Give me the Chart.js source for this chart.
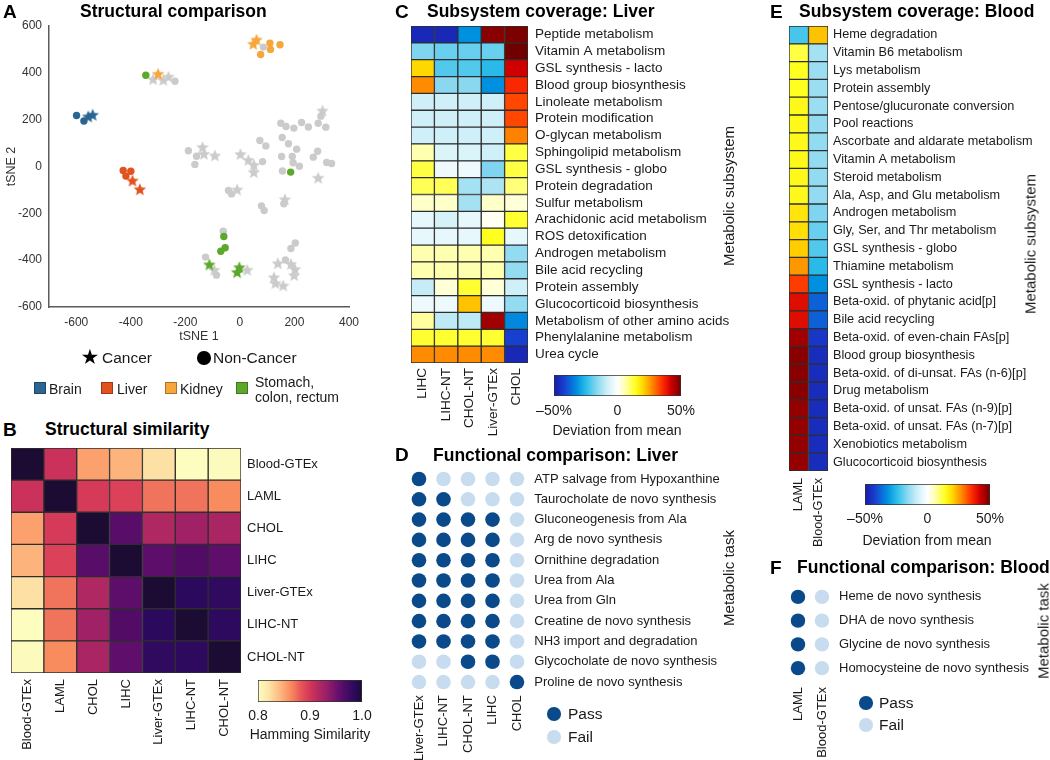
<!DOCTYPE html>
<html>
<head>
<meta charset="utf-8">
<title>Structural and functional comparison</title>
<script src="https://cdn.jsdelivr.net/npm/chart.js@4.4.1/dist/chart.umd.min.js"></script>
<style>
html,body{margin:0;padding:0;background:#ffffff;}
body{position:relative;width:1050px;height:760px;overflow:hidden;font-family:"Liberation Sans",Arial,Helvetica,sans-serif;color:#1a1a1a;}
.t{position:absolute;white-space:nowrap;line-height:1;}
canvas{position:absolute;}
.dot{position:absolute;border-radius:50%;}
.sq{position:absolute;width:12px;height:12px;box-sizing:border-box;border:1px solid rgba(0,0,0,0.3);}
</style>
</head>
<body>
<script>
// ================= DATA =================
// Panel A: tSNE coordinates
const brainCancer = [[-556,214],[-540,221]];
const brainNonCancer = [[-599,218],[-572,194]];
const liverCancer = [[-394,-60],[-367,-97]];
const liverNonCancer = [[-428,-17],[-400,-20],[-418,-41]];
const kidneyCancer = [[61,542],[49,524],[-300,396]];
const kidneyNonCancer = [[110,527],[112,500],[147,520],[76,478]];
const giCancer = [[-112,-418],[-2,-430],[-10,-451]];
const giNonCancer = [[-345,390],[186,-24],[-59,-299],[-54,-347],[-70,-362]];
const otherCancer = [[-318,373],[-281,370],[-262,384],[-137,83],[-132,54],[-92,47],[2,53],[31,28],[51,7],[51,-24],[303,239],[287,-48],[-10,-98],[165,-140],[-94,-441],[27,-441],[139,-413],[187,-416],[202,-438],[199,-464],[125,-473],[130,-498],[159,-508]];
const otherNonCancer = [[86,510],[-238,364],[-189,67],[-159,44],[-165,9],[83,21],[73,111],[95,88],[150,185],[169,171],[198,164],[226,188],[251,169],[287,185],[297,215],[315,168],[155,124],[178,97],[208,74],[153,43],[192,43],[195,16],[218,1],[269,40],[285,65],[318,17],[336,13],[156,-19],[-42,-102],[-31,-117],[79,-168],[89,-188],[161,-159],[-61,-276],[-126,-387],[-86,-464],[203,-327],[187,-350],[167,-399]];
const tsneXTicks = [-600,-400,-200,0,200,400];
const tsneYTicks = [-600,-400,-200,0,200,400,600];

// Panel B: Hamming similarity
const simLabels = ['Blood-GTEx','LAML','CHOL','LIHC','Liver-GTEx','LIHC-NT','CHOL-NT'];
const simMatrix = [
  [1.000,0.905,0.853,0.845,0.822,0.800,0.802],
  [0.905,1.000,0.898,0.894,0.872,0.872,0.862],
  [0.853,0.898,1.000,0.962,0.918,0.928,0.922],
  [0.845,0.894,0.962,1.000,0.960,0.965,0.958],
  [0.822,0.872,0.918,0.960,1.000,0.985,0.983],
  [0.800,0.872,0.928,0.965,0.985,1.000,0.984],
  [0.802,0.862,0.922,0.958,0.983,0.984,1.000]
];
const simTicks = [0.8,0.9,1.0];
const simTickLabels = ['0.8','0.9','1.0'];

// Panel C: subsystem coverage, liver (% deviation from mean)
const liverSubsystems = ['Peptide metabolism','Vitamin A metabolism','GSL synthesis - lacto','Blood group biosynthesis','Linoleate metabolism','Protein modification','O-glycan metabolism','Sphingolipid metabolism','GSL synthesis - globo','Protein degradation','Sulfur metabolism','Arachidonic acid metabolism','ROS detoxification','Androgen metabolism','Bile acid recycling','Protein assembly','Glucocorticoid biosynthesis','Metabolism of other amino acids','Phenylalanine metabolism','Urea cycle'];
const liverModels = ['LIHC','LIHC-NT','CHOL-NT','Liver-GTEx','CHOL'];
const liverDeviation = [
  [-47,-47,-32,48,49],
  [-17,-19,-19,-19,50],
  [20,-21,-21,-25,42],
  [27,-16,-16,-32,36],
  [-8,-8,-8,-8,33],
  [-8,-8,-8,-8,33],
  [-8,-8,-8,-8,28],
  [6,-6,-6,-8,12],
  [12,-3,-3,-17,12],
  [11,11,-13,-12,9],
  [4,4,-13,4,3],
  [-4,-7,-4,1,13],
  [-4,-4,-4,14,-4],
  [6,6,6,6,-15],
  [6,6,6,6,-15],
  [-9,3,13,3,-8],
  [-3,-3,22,-3,-15],
  [7,-10,-10,46,-33],
  [13,13,13,13,-42],
  [27,27,27,27,-47]
];
const devTicks = [-50,0,50];
const devTickLabels = ['\u201350%','0','50%'];

// Panel D: functional comparison, liver (1 = pass, 0 = fail)
const liverTasks = ['ATP salvage from Hypoxanthine','Taurocholate de novo synthesis','Gluconeogenesis from Ala','Arg de novo synthesis','Ornithine degradation','Urea from Ala','Urea from Gln','Creatine de novo synthesis','NH3 import and degradation','Glycocholate de novo synthesis','Proline de novo synthesis'];
const liverTaskModels = ['Liver-GTEx','LIHC-NT','CHOL-NT','LIHC','CHOL'];
const liverTaskPass = [
  [1,0,0,0,0],
  [1,1,0,0,0],
  [1,1,1,1,0],
  [1,1,1,1,0],
  [1,1,1,1,0],
  [1,1,1,1,0],
  [1,1,1,1,0],
  [1,1,1,1,0],
  [1,1,1,1,0],
  [0,0,1,1,0],
  [0,0,0,0,1]
];

// Panel E: subsystem coverage, blood
const bloodSubsystems = ['Heme degradation','Vitamin B6 metabolism','Lys metabolism','Protein assembly','Pentose/glucuronate conversion','Pool reactions','Ascorbate and aldarate metabolism','Vitamin A metabolism','Steroid metabolism','Ala, Asp, and Glu metabolism','Androgen metabolism','Gly, Ser, and Thr metabolism','GSL synthesis - globo','Thiamine metabolism','GSL synthesis - lacto','Beta-oxid. of phytanic acid[p]','Bile acid recycling','Beta-oxid. of even-chain FAs[p]','Blood group biosynthesis','Beta-oxid. of di-unsat. FAs (n-6)[p]','Drug metabolism','Beta-oxid. of unsat. FAs (n-9)[p]','Beta-oxid. of unsat. FAs (n-7)[p]','Xenobiotics metabolism','Glucocorticoid biosynthesis'];
const bloodModels = ['LAML','Blood-GTEx'];
const bloodDeviation = [
  [-22,22],[12,-13],[14,-14],[14,-14],[15,-14],[15,-15],[15,-15],[15,-15],[15,-15],[15,-15],
  [18,-17],[19,-19],[21,-21],[26,-25],[34,-32],[40,-38],[40,-38],[46,-44],[48,-46],[48,-46],
  [48,-46],[47,-46],[47,-46],[47,-46],[47,-46]
];

// Panel F: functional comparison, blood
const bloodTasks = ['Heme de novo synthesis','DHA de novo synthesis','Glycine de novo synthesis','Homocysteine de novo synthesis'];
const bloodTaskModels = ['LAML','Blood-GTEx'];
const bloodTaskPass = [[1,0],[1,0],[1,0],[1,0]];

// ================= STYLE =================
const FONT = '"Liberation Sans", Arial, Helvetica, sans-serif';
Chart.defaults.font.family = FONT;
Chart.defaults.color = '#1a1a1a';
const TXT = '#1a1a1a';
const groupColors = {brain:'#2b6592', liver:'#e1521f', kidney:'#f7a63c', gi:'#5ca82a', other:'#cbcbcb'};
const PASS = '#0b4a8a';
const FAIL = '#c7ddef';
const devStops = [[-50,'#1a1aa8'],[-42,'#1840d0'],[-32,'#0090e0'],[-24,'#30c0ea'],[-16,'#8ad8f0'],[-8,'#cff0f8'],[0,'#ffffff'],[6,'#ffffb0'],[14,'#ffff20'],[20,'#ffd800'],[27,'#ff8c00'],[35,'#ff3000'],[42,'#d00000'],[50,'#700000']];
const simStops = [[0.80,'#fcfdbf'],[0.82,'#fde5a8'],[0.84,'#fdbd84'],[0.85,'#fca874'],[0.86,'#fb9060'],[0.87,'#f27a5c'],[0.88,'#ea5a58'],[0.90,'#d43659'],[0.915,'#b52a60'],[0.93,'#9e2068'],[0.955,'#650f6e'],[0.965,'#520c66'],[0.985,'#2b0a5e'],[1.0,'#1c0b33']];

function hex2rgb(h){return [parseInt(h.slice(1,3),16),parseInt(h.slice(3,5),16),parseInt(h.slice(5,7),16)];}
function makeCmap(stops){
  return function(v){
    if (v <= stops[0][0]) return stops[0][1];
    if (v >= stops[stops.length-1][0]) return stops[stops.length-1][1];
    for (let k=1;k<stops.length;k++){
      if (v <= stops[k][0]){
        const t=(v-stops[k-1][0])/(stops[k][0]-stops[k-1][0]);
        const a=hex2rgb(stops[k-1][1]), b=hex2rgb(stops[k][1]);
        return 'rgb('+a.map((c,i)=>Math.round(c+(b[i]-c)*t)).join(',')+')';
      }
    }
  };
}
const devCmap = makeCmap(devStops);
const simCmap = makeCmap(simStops);

// ================= HELPERS =================
function makeCanvas(left, top, w, h){
  const c=document.createElement('canvas');
  c.width=w; c.height=h;
  c.style.left=left+'px'; c.style.top=top+'px'; c.style.width=w+'px'; c.style.height=h+'px';
  document.body.appendChild(c);
  return c;
}
function text(str, x, y, size, opts){
  opts = opts || {};
  const d=document.createElement('div');
  d.className='t'; d.textContent=str;
  d.style.left=x+'px'; d.style.top=y+'px'; d.style.fontSize=size+'px';
  if (opts.bold) d.style.fontWeight='bold';
  if (opts.color) d.style.color=opts.color;
  if (opts.family) d.style.fontFamily=opts.family;
  d.style.transform = opts.rot ? 'translate(-50%,-50%) rotate(-90deg)' : (opts.center ? 'translate(-50%,-50%)' : 'translate(0,-50%)');
  document.body.appendChild(d);
  return d;
}
function dot(cx, cy, r, color){
  const d=document.createElement('div'); d.className='dot';
  d.style.left=(cx-r)+'px'; d.style.top=(cy-r)+'px'; d.style.width=(2*r)+'px'; d.style.height=(2*r)+'px'; d.style.background=color;
  document.body.appendChild(d);
}
function square(x, y, color){
  const d=document.createElement('div'); d.className='sq';
  d.style.left=x+'px'; d.style.top=y+'px'; d.style.background=color;
  document.body.appendChild(d);
}
function starImage(color, R){
  const s=Math.ceil(R*2+2);
  const c=document.createElement('canvas'); c.width=s; c.height=s;
  const g=c.getContext('2d');
  g.translate(s/2,s/2+0.6);
  g.beginPath();
  for(let k=0;k<10;k++){
    const r = k%2 ? R*0.45 : R;
    const a = -Math.PI/2 + k*Math.PI/5;
    g.lineTo(r*Math.cos(a), r*Math.sin(a));
  }
  g.closePath(); g.fillStyle=color; g.fill();
  return c;
}
const baseOpts = {responsive:false, animation:false, events:[], plugins:{legend:{display:false}, tooltip:{enabled:false}}};
// fixed-size axes (no automatic label-overflow padding)
function fixX(h){ return s=>{ s.height=h; s.paddingLeft=0; s.paddingRight=0; }; }
function fixY(w){ return s=>{ s.width=w; s.paddingTop=0; s.paddingBottom=0; }; }

function heatmap(canvas, pad, axisW, axisH, rows, cols, values, cmap, fontSize, xPad, yPad){
  const datasets = cols.map((c,j)=>({
    label:c,
    data: rows.map(()=>[j,j+1]),
    backgroundColor: rows.map((r,i)=>cmap(values[i][j])),
    borderColor:'#2e2e2e', borderWidth:1, borderSkipped:false,
    barPercentage:1, categoryPercentage:1, grouped:false
  }));
  return new Chart(canvas,{
    type:'bar',
    data:{labels:rows, datasets},
    options:Object.assign({}, baseOpts, {
      indexAxis:'y',
      layout:{padding:pad},
      scales:{
        x:{type:'linear', min:0, max:cols.length, position:'bottom',
           grid:{display:false, drawTicks:false}, border:{display:false},
           afterBuildTicks:s=>{s.ticks=cols.map((_,j)=>({value:j+0.5}));},
           afterFit:fixX(axisH),
           ticks:{autoSkip:false, minRotation:90, maxRotation:90, padding:xPad, color:TXT, font:{size:fontSize}, callback:(v,i)=>cols[i]}},
        y:{type:'category', position:'right', offset:true,
           grid:{display:false, drawTicks:false}, border:{display:false},
           afterFit:fixY(axisW),
           ticks:{autoSkip:false, padding:yPad, color:TXT, font:{size:fontSize}}}
      }
    })
  });
}

function dotGrid(canvas, pad, axisW, axisH, rows, cols, pass, r, fontSize, xPad, yPad){
  const passPts=[], failPts=[];
  rows.forEach((row,i)=>cols.forEach((col,j)=>{(pass[i][j]?passPts:failPts).push({x:col,y:row});}));
  return new Chart(canvas,{
    type:'scatter',
    data:{datasets:[
      {label:'Pass', data:passPts, backgroundColor:PASS, pointRadius:r, borderWidth:0},
      {label:'Fail', data:failPts, backgroundColor:FAIL, pointRadius:r, borderWidth:0}
    ]},
    options:Object.assign({}, baseOpts, {
      layout:{padding:pad},
      scales:{
        x:{type:'category', labels:cols, offset:true, position:'bottom',
           grid:{display:false, drawTicks:false}, border:{display:false},
           afterFit:fixX(axisH),
           ticks:{autoSkip:false, minRotation:90, maxRotation:90, padding:xPad, color:TXT, font:{size:fontSize}}},
        y:{type:'category', labels:rows, offset:true, position:'right',
           grid:{display:false, drawTicks:false}, border:{display:false},
           afterFit:fixY(axisW),
           ticks:{autoSkip:false, padding:yPad, color:TXT, font:{size:fontSize}}}
      }
    })
  });
}

function colorbar(canvas, pad, axisH, min, max, ticks, labels, stops, tickPad){
  return new Chart(canvas,{
    type:'bar',
    data:{labels:[''], datasets:[{
      data:[[min,max]],
      backgroundColor:(ctx)=>{
        const ca=ctx.chart.chartArea; if(!ca) return 'rgba(0,0,0,0)';
        const g=ctx.chart.ctx.createLinearGradient(ca.left,0,ca.right,0);
        stops.forEach(([v,c])=>g.addColorStop((v-min)/(max-min), c));
        return g;
      },
      borderColor:'#333', borderWidth:1, borderSkipped:false, barPercentage:1, categoryPercentage:1
    }]},
    options:Object.assign({}, baseOpts, {
      indexAxis:'y',
      layout:{padding:pad},
      scales:{
        x:{type:'linear', min, max, position:'bottom',
           grid:{display:false, drawTicks:false}, border:{display:false},
           afterBuildTicks:s=>{s.ticks=ticks.map(v=>({value:v}));},
           afterFit:fixX(axisH),
           ticks:{padding:tickPad, color:TXT, font:{size:14}, callback:(v,i)=>labels[i]}},
        y:{display:false, offset:true}
      }
    })
  });
}

// ================= PANEL A =================
const aGroups = [
  ['brain', brainCancer, brainNonCancer],
  ['liver', liverCancer, liverNonCancer],
  ['kidney', kidneyCancer, kidneyNonCancer],
  ['gi', giCancer, giNonCancer],
  ['other', otherCancer, otherNonCancer]
];
const aDatasets = [];
aGroups.forEach(([key, cancer, normal])=>{
  aDatasets.push({label:key+' cancer', data:cancer.map(([x,y])=>({x,y})), pointStyle:starImage(groupColors[key],6.6), pointRadius:6});
  aDatasets.push({label:key+' non-cancer', data:normal.map(([x,y])=>({x,y})), pointStyle:'circle', pointRadius:3.7, backgroundColor:groupColors[key], borderWidth:0});
});
new Chart(makeCanvas(0,10,360,340),{
  type:'scatter',
  data:{datasets:aDatasets},
  options:Object.assign({}, baseOpts, {
    layout:{padding:{left:0, top:16, right:11, bottom:0}},
    scales:{
      x:{type:'linear', min:-700, max:400,
         grid:{display:false, drawTicks:false}, border:{display:true, color:'#5a5a5a', width:1.5},
         afterBuildTicks:s=>{s.ticks=tsneXTicks.map(v=>({value:v}));},
         afterFit:fixX(43),
         ticks:{padding:8, color:'#333', font:{size:12}},
         title:{display:true, text:'tSNE 1', color:'#333', font:{size:12.5}, padding:{top:0,bottom:6}}},
      y:{type:'linear', min:-600, max:600,
         grid:{display:false, drawTicks:false}, border:{display:true, color:'#5a5a5a', width:1.5},
         afterBuildTicks:s=>{s.ticks=tsneYTicks.map(v=>({value:v}));},
         afterFit:fixY(49),
         ticks:{padding:7, color:'#333', font:{size:12}},
         title:{display:true, text:'tSNE 2', color:'#333', font:{size:12.5}, padding:{top:4,bottom:0}}}
    }
  })
});

// ================= PANEL B =================
heatmap(makeCanvas(0,440,360,320), {left:11, top:8, right:0, bottom:0}, 119, 87, simLabels, simLabels, simMatrix, simCmap, 13, 6, 6);
colorbar(makeCanvas(230,675,150,80), {left:28, right:18, top:5, bottom:0}, 53, 0.8, 1.0, simTicks, simTickLabels, simStops, 6);

// ================= PANEL C =================
heatmap(makeCanvas(400,20,330,440), {left:11, top:6, right:0, bottom:0}, 202, 97, liverSubsystems, liverModels, liverDeviation, devCmap, 13.5, 5, 7);
colorbar(makeCanvas(520,370,200,72), {left:34, right:39, top:5, bottom:0}, 46, -50, 50, devTicks, devTickLabels, devStops, 7);

// ================= PANEL D =================
dotGrid(makeCanvas(395,460,335,300), {left:11.75, top:8.85, right:0, bottom:0}, 200.75, 67.8, liverTasks, liverTaskModels, liverTaskPass, 7.3, 13, 3, 5);

// ================= PANEL E =================
heatmap(makeCanvas(770,20,280,545), {left:19, top:6, right:0, bottom:0}, 222, 94, bloodSubsystems, bloodModels, bloodDeviation, devCmap, 12.7, 7, 5);
colorbar(makeCanvas(830,479,200,72), {left:35, right:40, top:5, bottom:0}, 46, -50, 50, devTicks, devTickLabels, devStops, 6);

// ================= PANEL F =================
dotGrid(makeCanvas(770,575,280,185), {left:16, top:10, right:0, bottom:0}, 216, 80, bloodTasks, bloodTaskModels, bloodTaskPass, 7.2, 13, 7, 5);

// ================= TEXT / LEGENDS =================
text('A', 3, 11, 19, {bold:true, color:'#000'});
text('Structural comparison', 80, 12, 17.5, {bold:true, color:'#000'});
text('B', 3, 429, 19, {bold:true, color:'#000'});
text('Structural similarity', 45, 430, 17.5, {bold:true, color:'#000'});
text('C', 395, 11, 19, {bold:true, color:'#000'});
text('Subsystem coverage: Liver', 427, 12, 17.5, {bold:true, color:'#000'});
text('D', 395, 454, 19, {bold:true, color:'#000'});
text('Functional comparison: Liver', 433, 456, 17.5, {bold:true, color:'#000'});
text('E', 770, 11, 19, {bold:true, color:'#000'});
text('Subsystem coverage: Blood', 799, 12, 17.5, {bold:true, color:'#000'});
text('F', 770, 567, 19, {bold:true, color:'#000'});
text('Functional comparison: Blood', 797, 568, 17.5, {bold:true, color:'#000'});

text('Metabolic subsystem', 728, 196, 15, {rot:true});
text('Metabolic task', 728, 578, 15, {rot:true});
text('Metabolic subsystem', 1030, 244, 15, {rot:true});
text('Metabolic task', 1043, 631, 15, {rot:true});

// colorbar titles
text('Hamming Similarity', 310, 734, 14, {center:true});
text('Deviation from mean', 617, 430, 14, {center:true});
text('Deviation from mean', 927, 540, 14, {center:true});

// Panel A legends
text('\u2605', 90, 357, 21, {center:true, color:'#000', family:'"DejaVu Sans", sans-serif'});
text('Cancer', 102, 358, 15.5);
dot(204, 358, 6.7, '#000');
text('Non-Cancer', 213, 358, 15.5);
square(34, 382, groupColors.brain);   text('Brain', 49, 389, 14);
square(101, 382, groupColors.liver);  text('Liver', 117, 389, 14);
square(165, 382, groupColors.kidney); text('Kidney', 180, 389, 14);
square(236, 382, groupColors.gi);     text('Stomach,', 255, 382, 14); text('colon, rectum', 255, 397, 14);

// Pass / Fail legends
dot(554, 714, 6.7, PASS); text('Pass', 568, 714, 15.5);
dot(554, 737, 6.7, FAIL); text('Fail', 568, 737, 15.5);
dot(866, 703, 6.7, PASS); text('Pass', 879, 703, 15.5);
dot(866, 725, 6.7, FAIL); text('Fail', 879, 725, 15.5);
</script>
</body>
</html>
